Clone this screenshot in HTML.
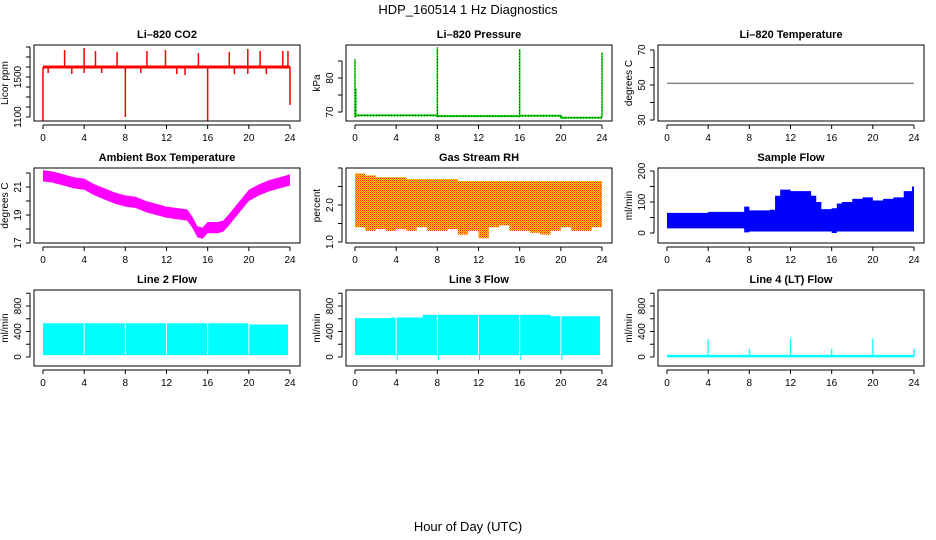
<!DOCTYPE html>
<html><head><meta charset="utf-8"><style>
body{margin:0;background:#fff;width:936px;height:540px;overflow:hidden}
svg{display:block;font-family:"Liberation Sans",sans-serif}
</style></head><body>
<svg id="fig" width="936" height="540" viewBox="0 0 936 540">
<defs>
<pattern id="rhpat" width="2" height="2" patternUnits="userSpaceOnUse">
<rect width="2" height="2" fill="#ffd000"/><rect width="1" height="1" fill="#ff2000"/><rect x="1" y="1" width="1" height="1" fill="#ff8000"/>
</pattern>
</defs>
<text x="468" y="14" text-anchor="middle" font-size="13">HDP_160514  1 Hz Diagnostics</text>
<text x="468" y="531" text-anchor="middle" font-size="13">Hour of Day (UTC)</text>
</svg>
<script>
// ---------- data ----------
const xTicks = [0,4,8,12,16,20,24];
const co2Base = 1600;
const co2SpikeHours = [0,0.5,2.1,2.8,4.0,4.0,5.1,5.7,7.2,8.0,9.5,10.1,11.9,13.0,13.8,15.1,16.0,18.1,18.6,19.9,19.9,21.1,21.7,23.3,23.8,24.0];
const co2SpikeVals  = [1060,1540,1770,1530,1790,1540,1760,1540,1750,1100,1540,1760,1770,1530,1520,1740,1050,1750,1530,1780,1530,1760,1530,1760,1760,1220];
const presBaseHours = [0,8,16,20,24];
const presBaseVals  = [69.0,68.8,68.9,68.3,68.3];
const presSpikeHours = [0,0.08,8,16,24];
const presSpikeVals  = [85.5,77,89,88.5,87.5];
const liTempHours = [0,24];
const liTempVals = [51,51];
const ambHours = [0,1,2,3,4,5,6,7,8,9,10,11,12,13,14,14.5,15,15.5,16,17,17.5,18,19,20,21,22,23,24];
const ambVals  = [21.8,21.7,21.5,21.3,21.2,20.8,20.5,20.2,20.0,19.9,19.6,19.4,19.2,19.1,19.0,18.5,17.8,17.7,18.1,18.1,18.2,18.6,19.5,20.4,20.8,21.1,21.3,21.5];
const rhHours = [0,1,2,3,4,5,6,7,8,9,10,11,12,13,14,15,16,17,18,19,20,21,22,23,24];
const rhTop   = [2.85,2.8,2.75,2.75,2.75,2.7,2.7,2.7,2.7,2.7,2.65,2.65,2.65,2.65,2.65,2.65,2.65,2.65,2.65,2.65,2.65,2.65,2.65,2.65,2.65];
const rhLow   = [1.4,1.3,1.35,1.3,1.35,1.3,1.4,1.3,1.3,1.35,1.2,1.3,1.1,1.4,1.45,1.3,1.3,1.25,1.2,1.3,1.4,1.3,1.3,1.4,1.4];
const flowHours = [0,4,7,7.5,8,10,10.5,11,12,13,14,14.5,15,16,16.5,17,18,19,20,21,22,23,23.8,24];
const flowTop   = [65,68,68,85,73,75,120,140,135,135,120,100,77,80,95,100,110,115,105,110,115,135,150,120];
const flowLow   = [15,15,15,2,5,5,5,5,5,5,5,5,5,0,5,5,5,5,5,5,5,5,5,0];
const l2Hours = [0,4,8,12,16,20,23.8];
const l2Top   = [530,530,530,530,530,510,440];
const l3Hours = [0,3.5,6.6,12,16,19,23.8];
const l3Top   = [610,620,660,660,660,640,570];
const l3Low   = [30,30,30,30,30,30,30];
const gapHours = [4,8,12,16,20];
const l4Base = 10;
const l4SpikeHours = [4,8,12,16,20,24];
const l4SpikeVals  = [280,130,290,130,290,130];

// ---------- helpers ----------
const svg = document.getElementById('fig');
const NS = 'http://www.w3.org/2000/svg';
function mk(tag, attrs, parent){const e=document.createElementNS(NS,tag);for(const k in attrs)e.setAttribute(k,attrs[k]);(parent||svg).appendChild(e);return e;}
const cols=[34,346,658], rows=[[45,121],[168,243],[290,366]];
function panel(ci,ri,name,title,ylab,va,pa,vb,pb,yTicks,yLabels){
  const L=cols[ci],T=rows[ri][0],B=rows[ri][1];
  const g=mk('g',{});
  
  
  const sx=h=>L+9+h*(247/24);
  const sy=v=>pa+(v-va)*((pb-pa)/(vb-va));
  const clipId='clip-'+name;
  const cp=mk('clipPath',{id:clipId},g);mk('rect',{x:L,y:T,width:266,height:B-T},cp);
  const t=mk('text',{x:L+133,y:T-7,'text-anchor':'middle','font-size':11,'font-weight':'bold'},g);
  t.textContent=title;
  
  
  const xa=mk('g',{},g);
  
  
  mk('line',{x1:sx(0),x2:sx(24),y1:B+4,y2:B+4,stroke:'#000'},xa);
  xTicks.forEach(h=>{mk('line',{x1:sx(h),x2:sx(h),y1:B+4,y2:B+8,stroke:'#000'},xa);
    const l=mk('text',{x:sx(h),y:B+20,'text-anchor':'middle','font-size':10},xa);l.textContent=h;});
  const ya=mk('g',{},g);
  
  
  mk('line',{x1:L-4,x2:L-4,y1:sy(yTicks[0]),y2:sy(yTicks[yTicks.length-1]),stroke:'#000'},ya);
  yTicks.forEach(v=>mk('line',{x1:L-8,x2:L-4,y1:sy(v),y2:sy(v),stroke:'#000'},ya));
  yLabels.forEach(v=>{const y=sy(parseFloat(v));const l=mk('text',{x:L-13,y:y,'text-anchor':'middle','font-size':10,transform:`rotate(-90 ${L-13} ${y})`},ya);l.textContent=v;});
  const yl=mk('text',{x:L-26,y:(T+B)/2,'text-anchor':'middle','font-size':10,transform:`rotate(-90 ${L-26} ${(T+B)/2})`},g);
  yl.textContent=ylab;
  
  
  const marks=mk('g',{'clip-path':`url(#${clipId})`},g);
  
  
  const box=mk('rect',{x:L,y:T,width:266,height:B-T,fill:'none',stroke:'#000','stroke-width':1},g);
  
  
  return {sx,sy,g:marks};
}
function band(p,hs,top,low,fill,stepped){
  let pts=[];
  for(let i=0;i<hs.length;i++){pts.push([p.sx(hs[i]),p.sy(top[i])]);if(stepped&&i<hs.length-1)pts.push([p.sx(hs[i+1]),p.sy(top[i])]);}
  for(let i=hs.length-1;i>=0;i--){if(stepped&&i<hs.length-1)pts.push([p.sx(hs[i+1]),p.sy(low[i])]);pts.push([p.sx(hs[i]),p.sy(low[i])]);}
  return mk('polygon',{points:pts.map(q=>q.join(',')).join(' '),fill:fill},p.g);
}

// CO2
let p=panel(0,0,'co2','Li\u2013820 CO2','Licor ppm',1100,117,1500,77,[1100,1200,1300,1400,1500,1600,1700,1800],['1100','1500']);
mk('rect',{x:p.sx(0),y:p.sy(co2Base)-1.5,width:p.sx(24)-p.sx(0),height:3,fill:'#ff0000'},p.g);
co2SpikeHours.forEach((h,i)=>{const s=mk('line',{x1:p.sx(h),x2:p.sx(h),y1:p.sy(co2Base),y2:p.sy(co2SpikeVals[i]),stroke:'#ff0000','stroke-width':1.5},p.g);
  
  });

// Pressure
p=panel(1,0,'pressure','Li\u2013820 Pressure','kPa',70,112,80,78,[70,75,80,85],['70','80']);
let pp=[];presBaseHours.forEach((h,i)=>{if(i>0)pp.push(p.sx(h)+','+p.sy(presBaseVals[i-1]));pp.push(p.sx(h)+','+p.sy(presBaseVals[i]));});
mk('polyline',{points:pp.join(' '),fill:'none',stroke:'#00dd00','stroke-width':2},p.g);
mk('polyline',{points:pp.join(' '),fill:'none',stroke:'#000','stroke-width':1,'stroke-dasharray':'1,2'},p.g);
presSpikeHours.forEach((h,i)=>{mk('line',{x1:p.sx(h),x2:p.sx(h),y1:p.sy(68.5),y2:p.sy(presSpikeVals[i]),stroke:'#00dd00','stroke-width':1.5},p.g);
  mk('line',{x1:p.sx(h),x2:p.sx(h),y1:p.sy(68.5),y2:p.sy(presSpikeVals[i]),stroke:'#000','stroke-width':0.8,'stroke-dasharray':'1,2'},p.g);});

// Li temperature
p=panel(2,0,'li-temperature','Li\u2013820 Temperature','degrees C',30,120,70,50,[30,40,50,60,70],['30','50','70']);
mk('polyline',{points:liTempHours.map((h,i)=>p.sx(h)+','+p.sy(liTempVals[i])).join(' '),fill:'none',stroke:'#555','stroke-width':1},p.g);

// Ambient
p=panel(0,1,'ambient-temperature','Ambient Box Temperature','degrees C',17,243,21,187,[17,18,19,20,21,22],['17','19','21']);
band(p,ambHours,ambVals.map(v=>v+0.4),ambVals.map(v=>v-0.4),'#ff00ff');

// RH
p=panel(1,1,'gas-stream-rh','Gas Stream RH','percent',1,242,2,205,[1,1.5,2,2.5,3],['1.0','2.0']);
band(p,rhHours,rhTop,rhLow,'url(#rhpat)',true);

// Sample flow
p=panel(2,1,'sample-flow','Sample Flow','ml/min',0,233,200,171,[0,50,100,150,200],['0','100','200']);
band(p,flowHours,flowTop,flowLow,'#0000ff',true);

// Line 2
p=panel(0,2,'line2-flow','Line 2 Flow','ml/min',0,357,800,306,[0,200,400,600,800,1000],['0','400','800']);
band(p,l2Hours,l2Top,l2Hours.map(()=>30),'#00ffff',true);
gapHours.forEach(h=>mk('line',{x1:p.sx(h),x2:p.sx(h),y1:p.sy(40),y2:p.sy(560),stroke:'#fff','stroke-width':1},p.g));

// Line 3
p=panel(1,2,'line3-flow','Line 3 Flow','ml/min',0,357,800,306,[0,200,400,600,800,1000],['0','400','800']);
band(p,l3Hours,l3Top,l3Low,'#00ffff',true);
gapHours.forEach(h=>{mk('line',{x1:p.sx(h),x2:p.sx(h),y1:p.sy(40),y2:p.sy(650),stroke:'#fff','stroke-width':1},p.g);
  mk('line',{x1:p.sx(h)+1,x2:p.sx(h)+1,y1:p.sy(30),y2:p.sy(-50),stroke:'#00ffff','stroke-width':1},p.g);});

// Line 4
p=panel(2,2,'line4-flow','Line 4 (LT) Flow','ml/min',0,357,800,306,[0,200,400,600,800,1000],['0','400','800']);
mk('rect',{x:p.sx(0),y:p.sy(l4Base)-1.5,width:p.sx(24)-p.sx(0),height:2.5,fill:'#00ffff'},p.g);
l4SpikeHours.forEach((h,i)=>mk('line',{x1:p.sx(h),x2:p.sx(h),y1:p.sy(l4Base),y2:p.sy(l4SpikeVals[i]),stroke:'#00ffff','stroke-width':1.2},p.g));
</script>
</body></html>
